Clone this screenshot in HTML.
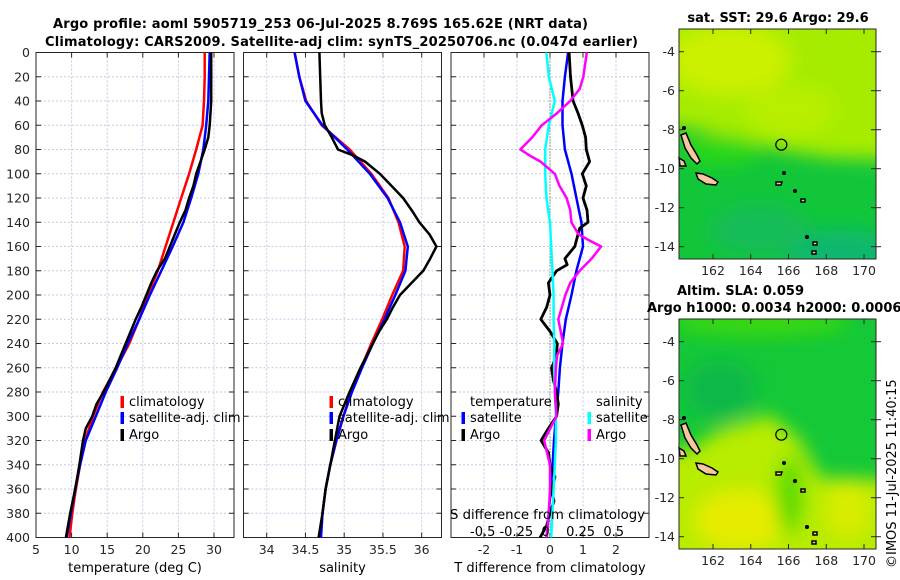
<!DOCTYPE html>
<html><head><meta charset="utf-8"><style>
html,body{margin:0;padding:0;background:#fff;}
svg{display:block;font-family:"DejaVu Sans","Liberation Sans",sans-serif;}
.tk{font-size:12.5px;fill:#262626;}
.tt{font-size:13px;font-weight:bold;fill:#000;}
.lg{font-size:13px;fill:#000;}
</style></head><body>
<svg id="chart" width="900" height="580" viewBox="0 0 900 580">
<defs>
<filter id="blur" x="-20%" y="-20%" width="140%" height="140%"><feGaussianBlur stdDeviation="9"/></filter>
<clipPath id="cm1"><rect x="679" y="29" width="197" height="230"/></clipPath>
<clipPath id="cm2"><rect x="679" y="319" width="197" height="230"/></clipPath>
</defs>
<text class="tt" x="53" y="28" textLength="535">Argo profile: aoml 5905719_253 06-Jul-2025 8.769S 165.62E (NRT data)</text>
<text class="tt" x="45" y="46" textLength="593">Climatology: CARS2009. Satellite-adj clim: synTS_20250706.nc (0.047d earlier)</text>
<g id="p1"></g>
<g id="p2"></g>
<g id="p3"></g>
<g id="m1"></g>
<g id="m2"></g>
<text class="tt" x="778" y="22" text-anchor="middle">sat. SST: 29.6 Argo: 29.6</text>
<text class="tt" x="677" y="295">Altim. SLA: 0.059</text>
<text class="tt" x="647" y="312">Argo h1000: 0.0034 h2000: 0.0006</text>
<text class="lg" x="0" y="0" transform="translate(896,568) rotate(-90)">©IMOS 11-Jul-2025 11:40:15</text>
</svg>
<script>
// ---------------- DATA ----------------
const depths = [0,20,40,60,80,100,120,140,160,180,200,220,240,260,280,300,320,340,360,380,400];
const tempClim = [28.7,28.7,28.6,28.4,27.5,26.5,25.4,24.3,23.2,22.1,20.7,19.5,18.1,16.3,14.4,13.0,11.9,11.2,10.6,10.1,9.7];
const tempSat  = [29.4,29.3,29.2,28.9,28.5,27.8,26.8,25.7,24.2,22.6,21.0,19.5,17.9,16.4,14.8,13.4,12.0,11.2,10.5,9.9,9.3];
const argoDepths = [0,20,40,60,70,80,90,100,110,120,130,140,150,160,170,180,190,200,210,220,230,240,260,280,290,300,310,320,340,360,380,400];
const tempArgo = [29.6,29.6,29.6,29.4,29.2,28.7,28.1,27.5,27.1,26.5,26.0,25.2,24.5,23.8,23.1,22.0,21.2,20.5,19.8,19.0,18.3,17.6,16.2,14.5,13.5,12.9,12.0,11.6,11.1,10.5,9.8,9.2];
const salClim = [34.36,34.42,34.51,34.71,35.07,35.35,35.57,35.70,35.78,35.76,35.62,35.49,35.35,35.22,35.09,34.99,34.90,34.82,34.76,34.72,34.69];
const salSat  = [34.36,34.42,34.50,34.72,35.04,35.33,35.56,35.72,35.82,35.79,35.66,35.52,35.37,35.23,35.10,34.99,34.90,34.82,34.76,34.72,34.70];
const salArgoDepths = [0,20,40,50,60,70,80,85,90,100,110,120,130,140,150,160,170,180,190,200,210,220,230,240,260,280,300,320,340,360,380,400];
const salArgo = [34.68,34.69,34.70,34.71,34.75,34.84,34.92,35.12,35.27,35.46,35.61,35.76,35.87,35.97,36.10,36.19,36.11,36.02,35.87,35.72,35.63,35.55,35.45,35.37,35.21,35.07,34.94,34.88,34.82,34.76,34.72,34.67];
const dTSat = [0.55,0.45,0.38,0.38,0.45,0.65,0.80,0.95,1.00,0.80,0.65,0.48,0.38,0.30,0.25,0.18,0.12,0.08,0.02,-0.04,-0.10];
const dTArgoDepths = [0,20,40,50,60,70,80,90,100,110,120,130,140,145,150,160,170,175,180,190,200,210,220,230,240,250,260,270,280,290,300,310,320,330,340,350,360,370,380,390,400];
const dTArgo = [0.58,0.62,0.70,0.85,0.98,1.08,1.10,1.20,0.98,1.10,1.00,1.12,1.15,0.90,0.85,0.75,0.45,0.52,0.20,-0.05,0.00,-0.10,-0.28,0.00,0.22,0.20,0.05,0.10,0.20,0.25,0.20,-0.05,-0.27,-0.05,0.00,0.15,0.05,0.12,0.00,-0.10,-0.30];
const dSArgoDepths = [0,20,30,40,50,60,70,80,85,90,100,110,120,130,140,150,155,160,170,180,190,200,220,240,250,260,280,300,320,340,360,380,400];
const dSArgo = [0.31,0.28,0.25,0.17,0.06,-0.07,-0.15,-0.25,-0.17,-0.08,0.04,0.08,0.14,0.17,0.18,0.24,0.33,0.43,0.35,0.25,0.17,0.13,0.07,0.11,0.06,0.05,0.04,0.055,-0.05,0.0,0.0,-0.01,-0.03];
const dSSat = [-0.03,-0.01,0.04,-0.01,-0.04,-0.04,-0.03,0.0,0.01,0.02,0.03,0.03,0.035,0.035,0.04,0.05,0.05,0.04,0.03,0.02,0.01];
const tempTicks = [5,10,15,20,25,30];
const salTicks = [34,34.5,35,35.5,36];
const dTTicks = [-2,-1,0,1,2];
const dSTickText = "-0.5 -0.25  0    0.25  0.5";
const depthTicks = [0,20,40,60,80,100,120,140,160,180,200,220,240,260,280,300,320,340,360,380,400];
const lonTicks = [162,164,166,168,170];
const latTicks = [-4,-6,-8,-10,-12,-14];
const argoLon = 165.62, argoLat = -8.769;

// ---------------- HELPERS ----------------
const NS = "http://www.w3.org/2000/svg";
function mk(parent, tag, attrs, txt){
  const e = document.createElementNS(NS, tag);
  for (const k in attrs) e.setAttribute(k, attrs[k]);
  if (txt !== undefined) e.textContent = txt;
  parent.appendChild(e); return e;
}
const Y0 = 52.5, Y1 = 537.5;
function yDepth(d){ return Y0 + d/400*(Y1-Y0); }
function lin(d0,d1,r0,r1){ return v => r0 + (v-d0)/(d1-d0)*(r1-r0); }

function panel(g, x0, x1, xScale, xTicks, showY, xlabelText, name){
  xTicks.forEach(t => {
    const gl = mk(g,'line',{x1:xScale(t),x2:xScale(t),y1:Y0,y2:Y1,stroke:'#c4c8e4','stroke-width':1,'stroke-dasharray':'2,2'});
    
    
  });
  depthTicks.forEach(t => {
    const gl = mk(g,'line',{x1:x0,x2:x1,y1:yDepth(t),y2:yDepth(t),stroke:'#c4c8e4','stroke-width':1,'stroke-dasharray':'2,2'});
    
    
    mk(g,'line',{x1:x0,x2:x0+5,y1:yDepth(t),y2:yDepth(t),stroke:'#262626'});
    mk(g,'line',{x1:x1-5,x2:x1,y1:yDepth(t),y2:yDepth(t),stroke:'#262626'});
    if (showY){
      const lb = mk(g,'text',{x:x0-6,y:yDepth(t)+4.5,'text-anchor':'end',class:'tk'}, String(t));
      
      
    }
  });
  xTicks.forEach(t => {
    mk(g,'line',{x1:xScale(t),x2:xScale(t),y1:Y1,y2:Y1-5,stroke:'#262626'});
    mk(g,'line',{x1:xScale(t),x2:xScale(t),y1:Y0,y2:Y0+5,stroke:'#262626'});
    const lb = mk(g,'text',{x:xScale(t),y:554,'text-anchor':'middle',class:'tk'}, String(t));
    
    
  });
  const fr = mk(g,'rect',{x:x0,y:Y0,width:x1-x0,height:Y1-Y0,fill:'none',stroke:'#262626','stroke-width':1});
  
  
  const xl = mk(g,'text',{x:(x0+x1)/2,y:572,'text-anchor':'middle',class:'lg',fill:'#262626'}, xlabelText);
  
  
}
function line(g, xs, ds, xScale, color, w, name){
  const d = xs.map((v,i)=>(i?'L':'M')+xScale(v).toFixed(1)+','+yDepth(ds[i]).toFixed(1)).join(' ');
  const p = mk(g,'path',{d:d,fill:'none',stroke:color,'stroke-width':w,'stroke-linejoin':'round'});
  
  
}
function legendEntry(g, x, y, color, label, name){
  mk(g,'rect',{x:x-1.5,y:y-10,width:3.5,height:12,fill:color});
  const t = mk(g,'text',{x:x+7,y:y,class:'lg'}, label);
  
  
}

// ---------------- PANEL 1 ----------------
const p1 = document.getElementById('p1');
const sx1 = lin(5, 30, 36, 214);
panel(p1, 36, 234, sx1, tempTicks, true, 'temperature (deg C)', 'temperature');
line(p1, tempClim, depths, sx1, '#ff0000', 2.5, 'temperature-climatology-line');
line(p1, tempSat, depths, sx1, '#0000ff', 2.5, 'temperature-satellite-line');
line(p1, tempArgo, argoDepths, sx1, '#000000', 2.5, 'temperature-argo-line');
legendEntry(p1, 122, 406, '#ff0000', 'climatology', 'legend-climatology');
legendEntry(p1, 122, 422, '#0000ff', 'satellite-adj. clim', 'legend-satellite-adj');
legendEntry(p1, 122, 439, '#000000', 'Argo', 'legend-argo');

// ---------------- PANEL 2 ----------------
const p2 = document.getElementById('p2');
const sx2 = lin(34, 36, 266.7, 421.7);
panel(p2, 243.5, 441.5, sx2, salTicks, false, 'salinity', 'salinity');
line(p2, salClim, depths, sx2, '#ff0000', 2.5, 'salinity-climatology-line');
line(p2, salSat, depths, sx2, '#0000ff', 2.5, 'salinity-satellite-line');
line(p2, salArgo, salArgoDepths, sx2, '#000000', 2.5, 'salinity-argo-line');
legendEntry(p2, 331, 406, '#ff0000', 'climatology', 'legend-climatology-2');
legendEntry(p2, 331, 422, '#0000ff', 'satellite-adj. clim', 'legend-satellite-adj-2');
legendEntry(p2, 331, 439, '#000000', 'Argo', 'legend-argo-2');

// ---------------- PANEL 3 ----------------
const p3 = document.getElementById('p3');
const sx3 = lin(-3, 3, 451, 649);
const sxS = s => sx3(s*3.6);
panel(p3, 451, 649, sx3, dTTicks, false, 'T difference from climatology', 'difference');
mk(p3,'line',{x1:sx3(0),x2:sx3(0),y1:Y0,y2:Y1,stroke:'#3a5a2a','stroke-width':1,'stroke-dasharray':'1,2'});
line(p3, dTSat, depths, sx3, '#0000ff', 2.5, 'temp-diff-satellite-line');
line(p3, dTArgo, dTArgoDepths, sx3, '#000000', 2.8, 'temp-diff-argo-line');
line(p3, dSSat, depths, sxS, '#00ffff', 2.5, 'sal-diff-satellite-line');
line(p3, dSArgo, dSArgoDepths, sxS, '#ff00ff', 2.5, 'sal-diff-argo-line');
{
  const t = mk(p3,'text',{x:470,y:406,class:'lg'},'temperature');
   
  const s = mk(p3,'text',{x:596,y:406,class:'lg'},'salinity');
   
}
legendEntry(p3, 463, 422, '#0000ff', 'satellite', 'legend-temp-satellite');
legendEntry(p3, 463, 439, '#000000', 'Argo', 'legend-temp-argo');
legendEntry(p3, 589, 422, '#00ffff', 'satellite', 'legend-sal-satellite');
legendEntry(p3, 589, 439, '#ff00ff', 'Argo', 'legend-sal-argo');
{
  const st = mk(p3,'text',{x:450,y:519,class:'lg',textLength:195,lengthAdjust:'spacingAndGlyphs'},'S difference from climatology');
   
  const lb = mk(p3,'text',{x:470,y:536,class:'lg',textLength:154,lengthAdjust:'spacing'},dSTickText);
  lb.setAttribute('style','white-space:pre');
  
  
}

// ---------------- MAPS ----------------
const mx = lin(162, 170, 713, 864);
function mapAxes(g, top, name){
  const my = lin(-4, -14, top+22.7, top+217.7);
  const fr = mk(g,'rect',{x:679,y:top,width:197,height:230,fill:'none',stroke:'#262626'});
   
  latTicks.forEach(t=>{
    mk(g,'line',{x1:679,x2:684,y1:my(t),y2:my(t),stroke:'#262626'});
    mk(g,'line',{x1:871,x2:881,y1:my(t),y2:my(t),stroke:'#262626'});
    const lb = mk(g,'text',{x:675,y:my(t)+4.5,'text-anchor':'end',class:'tk'},String(t));
     
  });
  lonTicks.forEach(t=>{
    mk(g,'line',{x1:mx(t),x2:mx(t),y1:top+230,y2:top+225,stroke:'#262626'});
    mk(g,'line',{x1:mx(t),x2:mx(t),y1:top,y2:top+5,stroke:'#262626'});
    const lb = mk(g,'text',{x:mx(t),y:top+246,'text-anchor':'middle',class:'tk'},String(t));
     
  });
  const c = mk(g,'circle',{cx:mx(argoLon),cy:my(argoLat),r:5.5,fill:'none',stroke:'#000','stroke-width':1.2});
   
}
function islands(g, dy){
  const grp = mk(g,'g',{transform:'translate(0,'+dy+')',fill:'#f5c8a0',stroke:'#000','stroke-width':1.5});
   
  mk(grp,'path',{d:'M681,135 L686,133 L691,145 L697,155 L700,161 L697,164 L691,158 L685,148 Z'});
  mk(grp,'path',{d:'M696,173 L703,174 L712,178 L718,182 L716,185 L706,184 L698,179 Z'});
  mk(grp,'path',{d:'M679,158 L684,161 L686,166 L680,166 Z'});
  mk(grp,'path',{d:'M776,182 L782,182 L781,185 L776,185 Z'});
  mk(grp,'path',{d:'M801,199 L805,199 L805,202 L801,202 Z'});
  mk(grp,'path',{d:'M813,242 L817,242 L817,245 L813,245 Z'});
  mk(grp,'path',{d:'M812,251 L816,251 L816,254 L812,254 Z'});
  mk(grp,'circle',{cx:684,cy:128,r:1.3,fill:'#000'});
  mk(grp,'circle',{cx:784,cy:173,r:1.2,fill:'#000'});
  mk(grp,'circle',{cx:795,cy:191,r:1.3,fill:'#000'});
  mk(grp,'circle',{cx:807,cy:237,r:1.3,fill:'#000'});
}
const m1 = document.getElementById('m1');
{
  const bg = mk(m1,'g',{'clip-path':'url(#cm1)'});
   
  mk(bg,'rect',{x:679,y:29,width:197,height:230,fill:'#12c63a'});
  const f = mk(bg,'g',{filter:'url(#blur)'});
  mk(f,'path',{d:'M660,10 L900,10 L900,160 L830,158 L780,150 L740,140 L700,130 L660,125 Z',fill:'#a6ec00'});
  mk(f,'ellipse',{cx:730,cy:60,rx:60,ry:35,fill:'#ccf000'});
  mk(f,'ellipse',{cx:790,cy:110,rx:45,ry:25,fill:'#b8ee00'});
  mk(f,'ellipse',{cx:720,cy:150,rx:40,ry:15,fill:'#2ad818'});
  mk(f,'ellipse',{cx:840,cy:250,rx:60,ry:20,fill:'#0cb870'});
  mk(f,'ellipse',{cx:760,cy:230,rx:50,ry:25,fill:'#16bc58'});
}
islands(m1, 0);
mapAxes(m1, 29, 'sst-map');
const m2 = document.getElementById('m2');
{
  const bg = mk(m2,'g',{'clip-path':'url(#cm2)'});
   
  mk(bg,'rect',{x:679,y:319,width:197,height:230,fill:'#14c838'});
  const f = mk(bg,'g',{filter:'url(#blur)'});
  mk(f,'ellipse',{cx:760,cy:322,rx:90,ry:14,fill:'#3ad810'});
  mk(f,'path',{d:'M660,450 L690,450 L720,430 L770,415 L800,440 L820,478 L900,480 L900,600 L660,600 Z',fill:'#b8ec00'});
  mk(f,'ellipse',{cx:740,cy:520,rx:45,ry:30,fill:'#e6ec00'});
  mk(f,'ellipse',{cx:848,cy:508,rx:22,ry:30,fill:'#d8ec00'});
  mk(f,'ellipse',{cx:790,cy:495,rx:14,ry:40,fill:'#58dc00'});
  mk(f,'ellipse',{cx:720,cy:390,rx:35,ry:30,fill:'#10b848'});
}
islands(m2, 290);
mapAxes(m2, 319, 'sla-map');
</script>
</body></html>
